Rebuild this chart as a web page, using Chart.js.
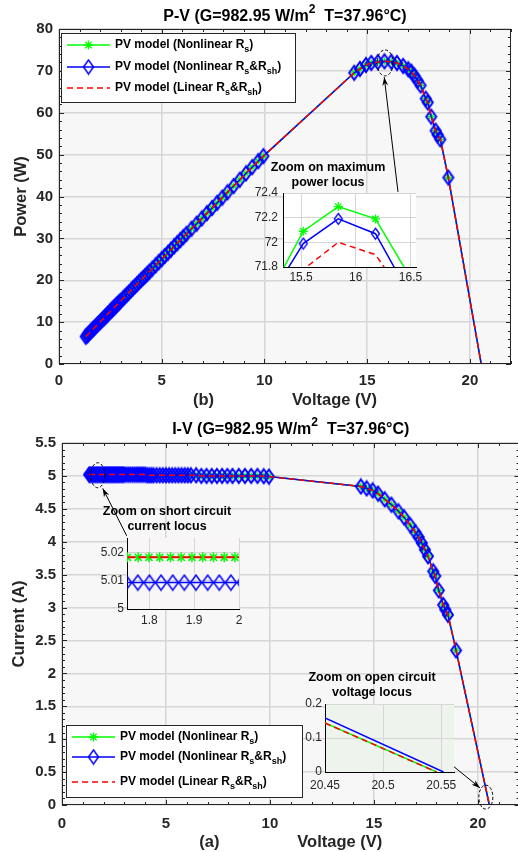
<!DOCTYPE html>
<html>
<head>
<meta charset="utf-8">
<script src="https://cdn.jsdelivr.net/npm/chart.js@4.4.0/dist/chart.umd.min.js"></script>
<style>
  body { margin: 0; width: 518px; height: 852px; overflow: hidden; background: #fff; position: relative; }
  canvas { position: absolute; }
</style>
</head>
<body>
<canvas id="pvChart" width="518" height="410" style="left:0;top:0"></canvas>
<canvas id="ivChart" width="526" height="437" style="left:0;top:415px"></canvas>
<canvas id="mppZoom" width="193" height="140" style="left:240px;top:150px"></canvas>
<canvas id="iscZoom" width="160" height="135" style="left:95px;top:495px"></canvas>
<canvas id="vocZoom" width="182" height="135" style="left:290px;top:660px"></canvas>
<script>
// ---- data ----
// main curves (the three models overlap at this scale)
const voltage = [1.3, 1.35, 1.4, 1.45, 1.5, 1.55, 1.6, 1.65, 1.7, 1.75, 1.8, 1.85, 1.9, 1.95, 2.0, 2.05, 2.1, 2.15, 2.2, 2.25,
  2.3, 2.35, 2.4, 2.45, 2.5, 2.55, 2.6, 2.65, 2.7, 2.75, 2.8, 2.85, 2.9, 2.95, 3.0,
  3.1, 3.2, 3.3, 3.4, 3.5, 3.6, 3.7, 3.8, 3.9, 4.0,
  4.1, 4.2, 4.3, 4.4, 4.55, 4.7, 4.85, 5.0, 5.15, 5.3, 5.45, 5.6, 5.75, 5.9, 6.05, 6.2, 6.45,
  6.7, 6.95, 7.2, 7.45, 7.7, 7.95, 8.2, 8.5, 8.8, 9.1, 9.4, 9.7, 9.95,
  14.37, 14.65, 14.94, 15.2, 15.52, 15.84, 16.18, 16.45, 16.75, 17.0,
  17.15, 17.3, 17.45, 17.6, 17.85, 17.95, 18.12, 18.33, 18.43, 18.56, 18.95, 20.55];
const current = [5.02, 5.02, 5.02, 5.02, 5.02, 5.02, 5.02, 5.02, 5.02, 5.02, 5.02, 5.02, 5.02, 5.02, 5.02, 5.02, 5.02, 5.02, 5.02, 5.02,
  5.02, 5.02, 5.02, 5.02, 5.02, 5.02, 5.02, 5.02, 5.02, 5.02, 5.02, 5.02, 5.02, 5.02, 5.02,
  5.02, 5.02, 5.02, 5.02, 5.02, 5.02, 5.02, 5.02, 5.02, 5.02,
  5.01, 5.01, 5.01, 5.01, 5.01, 5.01, 5.01, 5.01, 5.01, 5.01, 5.01, 5.01, 5.01, 5.01, 5.01, 5.01, 5.01,
  5.0, 5.0, 5.0, 5.0, 5.0, 5.0, 5.0, 5.0, 5.0, 5.0, 5.0, 4.995, 4.99,
  4.84, 4.81, 4.78, 4.73, 4.645, 4.563, 4.462, 4.37, 4.25, 4.14,
  4.07, 3.98, 3.88, 3.78, 3.55, 3.48, 3.26, 3.04, 2.97, 2.89, 2.35, 0];
const power = [6.53, 6.78, 7.03, 7.28, 7.53, 7.78, 8.03, 8.28, 8.53, 8.79, 9.04, 9.29, 9.54, 9.79, 10.04, 10.29, 10.54, 10.79, 11.04, 11.3,
  11.55, 11.8, 12.05, 12.3, 12.55, 12.8, 13.05, 13.3, 13.55, 13.81, 14.06, 14.31, 14.56, 14.81, 15.06,
  15.56, 16.06, 16.57, 17.07, 17.57, 18.07, 18.57, 19.08, 19.58, 20.08,
  20.54, 21.04, 21.54, 22.04, 22.8, 23.55, 24.3, 25.05, 25.8, 26.55, 27.3, 28.06, 28.81, 29.56, 30.31, 31.06, 32.31,
  33.5, 34.75, 36.0, 37.25, 38.5, 39.75, 41.0, 42.5, 44.0, 45.5, 47.0, 48.45, 49.65,
  69.55, 70.47, 71.41, 71.9, 72.09, 72.28, 72.19, 71.89, 71.19, 70.38,
  69.8, 68.85, 67.7, 66.53, 63.37, 62.47, 59.07, 55.72, 54.74, 53.64, 44.53, 0];

// zoom on maximum power locus
const mppV = [15.2, 15.52, 15.84, 16.18, 16.5];
const mppNonlinRs = [71.56, 72.09, 72.29, 72.19, 71.71];
const mppNonlinRsRsh = [71.53, 71.99, 72.19, 72.07, 71.56];
const mppLinear = [71.35, 71.78, 72.0, 71.9, 71.49];

// zoom on short circuit current locus
const iscStarV = [1.751, 1.775, 1.799, 1.823, 1.847, 1.871, 1.895, 1.919, 1.943, 1.967, 1.991, 2.015];
const iscNonlinRs = [5.0182, 5.0182, 5.0182, 5.0182, 5.0182, 5.0182, 5.0182, 5.0182, 5.0182, 5.0182, 5.0182, 5.0182];
const iscDiamV = [1.748, 1.774, 1.8, 1.826, 1.852, 1.878, 1.904, 1.93, 1.956, 1.982, 2.008];
const iscNonlinRsRsh = [5.0093, 5.0093, 5.0093, 5.0093, 5.0093, 5.0093, 5.0093, 5.0093, 5.0093, 5.0093, 5.0093];
const iscLinear = [5.0182, 5.0182, 5.0182, 5.0182, 5.0182, 5.0182, 5.0182, 5.0182, 5.0182, 5.0182, 5.0182, 5.0182];

// zoom on open circuit voltage locus
const vocNonlinRsV = [20.45, 20.546];
const vocNonlinRs = [0.144, 0];
const vocNonlinRsRshV = [20.45, 20.552];
const vocNonlinRsRsh = [0.159, 0];
const vocLinearV = [20.45, 20.546];
const vocLinear = [0.144, 0];

const seriesNames = ['PV model (Nonlinear Rs)', 'PV model (Nonlinear Rs&Rsh)', 'PV model (Linear Rs&Rsh)'];
// same names with subscripts for the legend
const seriesRich = [
  [['PV model (Nonlinear R', ''], ['s', 'sub'], [')', '']],
  [['PV model (Nonlinear R', ''], ['s', 'sub'], ['&R', ''], ['sh', 'sub'], [')', '']],
  [['PV model (Linear R', ''], ['s', 'sub'], ['&R', ''], ['sh', 'sub'], [')', '']]
];

// ---- styling ----
const FONT = '"Liberation Sans", Arial, Helvetica, sans-serif';
const INK = '#262626';
const GRID = '#d6d6d6';
const GREEN = '#00ff00';
const BLUE = '#0000ff';
const RED = '#ff0000';

const pts = (xs, ys) => xs.map((x, i) => ({ x: x, y: ys[i] }));
// plain tick labels: 5, 5.01, 72, 16.5 ...
const plain = v => String(Number(v.toFixed(4)));

// MATLAB-like diamond (taller than wide) used as point style
function diamond(w, h, lw) {
  const c = document.createElement('canvas');
  c.width = Math.ceil(w + 2 * lw);
  c.height = Math.ceil(h + 2 * lw);
  const g = c.getContext('2d');
  const cx = c.width / 2, cy = c.height / 2;
  g.strokeStyle = BLUE;
  g.lineWidth = lw;
  g.beginPath();
  g.moveTo(cx, cy - h / 2);
  g.lineTo(cx + w / 2, cy);
  g.lineTo(cx, cy + h / 2);
  g.lineTo(cx - w / 2, cy);
  g.closePath();
  g.stroke();
  return c;
}

function drawRich(ctx, parts, x, y, size, align) {
  const small = Math.round(size * 0.78);
  let w = 0;
  parts.forEach(([t, k]) => {
    ctx.font = 'bold ' + (k ? small : size) + 'px ' + FONT;
    w += ctx.measureText(t).width;
  });
  let cx = align === 'center' ? x - w / 2 : x;
  ctx.textAlign = 'left';
  ctx.textBaseline = 'middle';
  parts.forEach(([t, k]) => {
    ctx.font = 'bold ' + (k ? small : size) + 'px ' + FONT;
    let dy = 0;
    if (k === 'sub') dy = size * 0.4;
    if (k === 'sup') dy = -size * 0.45;
    ctx.fillText(t, cx, y + dy);
    cx += ctx.measureText(t).width;
  });
}

function asterisk(ctx, x, y, r) {
  ctx.beginPath();
  for (let k = 0; k < 4; k++) {
    const a = k * Math.PI / 4;
    ctx.moveTo(x - r * Math.cos(a), y - r * Math.sin(a));
    ctx.lineTo(x + r * Math.cos(a), y + r * Math.sin(a));
  }
  ctx.stroke();
}

// fill the plot area
const plotBg = {
  id: 'plotBg',
  beforeDraw(chart, args, o) {
    const a = chart.chartArea;
    chart.ctx.save();
    chart.ctx.fillStyle = o.color;
    chart.ctx.fillRect(a.left, a.top, a.right - a.left, a.bottom - a.top);
    chart.ctx.restore();
  }
};

// box around the axes with inward major/minor ticks
const boxTicks = {
  id: 'boxTicks',
  afterDraw(chart, args, o) {
    const { ctx, chartArea: a, scales: { x, y } } = chart;
    ctx.save();
    ctx.strokeStyle = INK;
    ctx.lineWidth = 1;
    ctx.strokeRect(a.left + 0.5, a.top + 0.5, a.right - a.left - 1, a.bottom - a.top - 1);
    ctx.beginPath();
    for (let k = Math.ceil(x.min / o.xMinor - 1e-6); k * o.xMinor <= x.max + 1e-6; k++) {
      const v = k * o.xMinor;
      const len = Math.abs(v / o.xMajor - Math.round(v / o.xMajor)) < 1e-6 ? 5 : 3;
      const px = Math.round(x.getPixelForValue(v)) + 0.5;
      ctx.moveTo(px, a.bottom); ctx.lineTo(px, a.bottom - len);
      ctx.moveTo(px, a.top); ctx.lineTo(px, a.top + len);
    }
    for (let k = Math.ceil(y.min / o.yMinor - 1e-6); k * o.yMinor <= y.max + 1e-6; k++) {
      const v = k * o.yMinor;
      const len = Math.abs(v / o.yMajor - Math.round(v / o.yMajor)) < 1e-6 ? 5 : 3;
      const py = Math.round(y.getPixelForValue(v)) + 0.5;
      ctx.moveTo(a.left, py); ctx.lineTo(a.left + len, py);
      ctx.moveTo(a.right, py); ctx.lineTo(a.right - len, py);
    }
    ctx.stroke();
    ctx.restore();
  }
};

// legend box with subscripts
const boxLegend = {
  id: 'boxLegend',
  afterDraw(chart, args, o) {
    const ctx = chart.ctx;
    const [bx, by, bw, bh] = o.box;
    ctx.save();
    ctx.fillStyle = '#fff';
    ctx.fillRect(bx, by, bw, bh);
    ctx.strokeStyle = INK;
    ctx.lineWidth = 1;
    ctx.strokeRect(bx + 0.5, by + 0.5, bw, bh);
    chart.data.datasets.forEach((ds, i) => {
      const y = o.rows[i];
      ctx.strokeStyle = ds.borderColor;
      ctx.lineWidth = ds.borderWidth;
      ctx.setLineDash(ds.borderDash || []);
      ctx.beginPath();
      ctx.moveTo(bx + 6, y);
      ctx.lineTo(bx + 49, y);
      ctx.stroke();
      ctx.setLineDash([]);
      if (ds.legendMarker === 'star') {
        ctx.lineWidth = 1.3;
        asterisk(ctx, bx + 27.5, y, 4.5);
      } else if (ds.legendMarker) {
        const m = ds.legendMarker;
        ctx.drawImage(m, bx + 27.5 - m.width / 2, y - m.height / 2);
      }
      ctx.fillStyle = '#000';
      drawRich(ctx, seriesRich[i], bx + 54, y, 12, 'left');
    });
    ctx.restore();
  }
};

// dashed ring + arrow pointing at the zoomed region (data coordinates)
const callout = {
  id: 'callout',
  afterDraw(chart, args, o) {
    const { ctx, scales: { x, y } } = chart;
    ctx.save();
    ctx.strokeStyle = '#000';
    ctx.fillStyle = '#000';
    ctx.lineWidth = 1;
    o.items.forEach(it => {
      ctx.setLineDash([3, 2]);
      ctx.beginPath();
      ctx.ellipse(x.getPixelForValue(it.ring[0]), y.getPixelForValue(it.ring[1]), it.rx, it.ry, 0, 0, 2 * Math.PI);
      ctx.stroke();
      ctx.setLineDash([]);
      const x0 = x.getPixelForValue(it.from[0]), y0 = y.getPixelForValue(it.from[1]);
      const x1 = x.getPixelForValue(it.to[0]), y1 = y.getPixelForValue(it.to[1]);
      ctx.beginPath();
      ctx.moveTo(x0, y0);
      ctx.lineTo(x1, y1);
      ctx.stroke();
      const ang = Math.atan2(y1 - y0, x1 - x0);
      ctx.beginPath();
      ctx.moveTo(x1, y1);
      ctx.lineTo(x1 - 9 * Math.cos(ang - 0.33), y1 - 9 * Math.sin(ang - 0.33));
      ctx.lineTo(x1 - 6 * Math.cos(ang), y1 - 6 * Math.sin(ang));
      ctx.lineTo(x1 - 9 * Math.cos(ang + 0.33), y1 - 9 * Math.sin(ang + 0.33));
      ctx.closePath();
      ctx.fill();
    });
    ctx.restore();
  }
};

// chart title with superscript
const richTitle = {
  id: 'richTitle',
  afterDraw(chart, args, o) {
    const a = chart.chartArea;
    chart.ctx.save();
    chart.ctx.fillStyle = '#000';
    drawRich(chart.ctx, o.parts, (a.left + a.right) / 2, o.y, 16, 'center');
    chart.ctx.restore();
  }
};

const fitW = w => s => { s.width = w; s.paddingTop = 0; s.paddingBottom = 0; };
const fitH = h => s => { s.height = h; s.paddingLeft = 0; s.paddingRight = 0; };
const tickFont = { family: FONT, size: 15, weight: 'bold' };
const labelFont = { family: FONT, size: 16.5, weight: 'bold', lineHeight: 1.2 };
const zoomTick = { family: FONT, size: 12 };
const zoomTitle = { family: FONT, size: 12.5, weight: 'bold', lineHeight: 1.2 };
const lastIdx = voltage.length - 1;

const mainDiamond = diamond(10, 14, 2);
const legendDiamond = diamond(10, 14, 1.5);

// green drawn first, blue diamonds over it, red dashes on top
function mainSets(ys) {
  return [
    { label: seriesNames[0], data: pts(voltage, ys), borderColor: GREEN, borderWidth: 1.5,
      pointStyle: 'star', pointRadius: c => (c.dataIndex === lastIdx ? 0 : 3.5),
      pointBorderColor: GREEN, pointBorderWidth: 1.2, legendMarker: 'star', order: 3 },
    { label: seriesNames[1], data: pts(voltage, ys), borderColor: BLUE, borderWidth: 1.5,
      pointStyle: mainDiamond, pointRadius: c => (c.dataIndex === lastIdx ? 0 : 5),
      legendMarker: legendDiamond, order: 2 },
    { label: seriesNames[2], data: pts(voltage, ys), borderColor: RED, borderWidth: 1.5,
      borderDash: [6, 4], pointRadius: 0, order: 1 }
  ];
}

// P-V curve
new Chart('pvChart', {
  type: 'line',
  data: { datasets: mainSets(power) },
  options: {
    responsive: false, animation: false, events: [], devicePixelRatio: 1,
    layout: { padding: { top: 29, right: 7, bottom: 0, left: 0 } },
    scales: {
      x: {
        type: 'linear', min: 0, max: 22, afterFit: fitH(46),
        grid: { color: GRID, lineWidth: 1.5, drawTicks: false },
        border: { display: false },
        ticks: { stepSize: 5, includeBounds: false, padding: 8, color: INK, font: tickFont, callback: plain },
        title: { display: true, text: '(b)' + ' '.repeat(17) + 'Voltage (V)', color: INK, font: labelFont, padding: { top: 0, bottom: 0 } }
      },
      y: {
        min: 0, max: 80, afterFit: fitW(59),
        grid: { color: GRID, lineWidth: 1.5, drawTicks: false },
        border: { display: false },
        ticks: { stepSize: 10, padding: 6, color: INK, font: tickFont, callback: plain },
        title: { display: true, text: 'Power (W)', color: INK, font: labelFont, padding: { top: 12, bottom: 0 } }
      }
    },
    plugins: {
      legend: { display: false },
      tooltip: { enabled: false },
      plotBg: { color: '#f7f7f7' },
      boxTicks: { xMinor: 1, xMajor: 5, yMinor: 2, yMajor: 10 },
      boxLegend: { box: [61, 33, 234, 69], rows: [45, 67, 88] },
      callout: { items: [{ ring: [15.87, 71.9], rx: 8, ry: 13, from: [16.5, 41.1], to: [15.83, 68.5] }] },
      richTitle: { y: 17, parts: [['P-V (G=982.95 W/m', ''], ['2', 'sup'], ['  T=37.96°C)', '']] }
    }
  },
  plugins: [plotBg, boxTicks, callout, boxLegend, richTitle]
});

// I-V curve
new Chart('ivChart', {
  type: 'line',
  data: { datasets: mainSets(current) },
  options: {
    responsive: false, animation: false, events: [], devicePixelRatio: 1,
    layout: { padding: { top: 28, right: 4, bottom: 0, left: 0 } },
    scales: {
      x: {
        type: 'linear', min: 0, max: 22, afterFit: fitH(47),
        grid: { color: GRID, lineWidth: 1.5, drawTicks: false },
        border: { display: false },
        ticks: { stepSize: 5, includeBounds: false, padding: 10, color: INK, font: tickFont, callback: plain },
        title: { display: true, text: '(a)' + ' '.repeat(17) + 'Voltage (V)', color: INK, font: labelFont, padding: { top: 0, bottom: 0 } }
      },
      y: {
        min: 0, max: 5.5, afterFit: fitW(62),
        grid: { color: GRID, lineWidth: 1.5, drawTicks: false },
        border: { display: false },
        ticks: { stepSize: 0.5, padding: 6, color: INK, font: tickFont, callback: plain },
        title: { display: true, text: 'Current (A)', color: INK, font: labelFont, padding: { top: 10, bottom: 0 } }
      }
    },
    plugins: {
      legend: { display: false },
      tooltip: { enabled: false },
      plotBg: { color: '#f7f7f7' },
      boxTicks: { xMinor: 1, xMajor: 5, yMinor: 0.1, yMajor: 0.5 },
      boxLegend: { box: [66, 310, 236, 72], rows: [322, 342, 367] },
      callout: { items: [
        { ring: [1.72, 5.01], rx: 7, ry: 12.5, from: [3.11, 4.09], to: [1.96, 4.81] },
        { ring: [20.38, 0.12], rx: 7, ry: 12, from: [18.66, 0.63], to: [20.1, 0.26] }
      ] },
      richTitle: { y: 15, parts: [['I-V (G=982.95 W/m', ''], ['2', 'sup'], ['  T=37.96°C)', '']] }
    }
  },
  plugins: [plotBg, boxTicks, callout, boxLegend, richTitle]
});

// shared options for the zoom insets
function zoomOptions(title, titlePad, xs, ys, bg) {
  return {
    responsive: false, animation: false, events: [], devicePixelRatio: 1,
    layout: { padding: { top: 0, right: xs.right, bottom: 0, left: 0 } },
    scales: {
      x: {
        type: 'linear', min: xs.min, max: xs.max, afterFit: fitH(xs.h),
        grid: { color: GRID, lineWidth: 1, drawTicks: false },
        border: { display: true, color: '#000', width: 1 },
        ticks: { stepSize: xs.step, includeBounds: false, padding: xs.pad, color: INK, font: zoomTick, callback: plain }
      },
      y: {
        min: ys.min, max: ys.max, afterFit: fitW(ys.w),
        grid: { color: GRID, lineWidth: 1, drawTicks: false },
        border: { display: true, color: '#000', width: 1 },
        ticks: { stepSize: ys.step, includeBounds: false, padding: ys.pad, color: INK, font: zoomTick, callback: plain }
      }
    },
    plugins: {
      legend: { display: false },
      tooltip: { enabled: false },
      plotBg: { color: bg },
      title: { display: true, text: title, color: '#000', font: zoomTitle, padding: titlePad }
    }
  };
}

new Chart('mppZoom', {
  type: 'line',
  data: { datasets: [
    { label: seriesNames[0], data: pts(mppV, mppNonlinRs), borderColor: GREEN, borderWidth: 1.5,
      pointStyle: 'star', pointRadius: 4.5, pointBorderColor: GREEN, pointBorderWidth: 1.3, order: 2 },
    { label: seriesNames[1], data: pts(mppV, mppNonlinRsRsh), borderColor: BLUE, borderWidth: 1.5,
      pointStyle: diamond(8, 11, 1.3), pointRadius: 4, order: 3 },
    { label: seriesNames[2], data: pts(mppV, mppLinear), borderColor: RED, borderWidth: 1.5,
      borderDash: [6, 4], pointRadius: 0, order: 1 }
  ] },
  options: zoomOptions(['Zoom on maximum', 'power locus'], { top: 10, bottom: 3 },
    { min: 15.335, max: 16.55, step: 0.5, h: 23, pad: 3, right: 17 },
    { min: 71.8, max: 72.4, step: 0.2, w: 43, pad: 5 }, '#ffffff'),
  plugins: [plotBg]
});

new Chart('iscZoom', {
  type: 'line',
  data: { datasets: [
    { label: seriesNames[0], data: pts(iscStarV, iscNonlinRs), borderColor: GREEN, borderWidth: 1.5,
      pointStyle: 'star', pointRadius: 5, pointBorderColor: GREEN, pointBorderWidth: 1.5, order: 2 },
    { label: seriesNames[1], data: pts(iscDiamV, iscNonlinRsRsh), borderColor: BLUE, borderWidth: 1.5,
      pointStyle: diamond(11, 15, 1.5), pointRadius: 5, order: 3 },
    { label: seriesNames[2], data: pts(iscStarV, iscLinear), borderColor: RED, borderWidth: 2,
      borderDash: [8, 3], pointRadius: 0, order: 1 }
  ] },
  options: zoomOptions(['Zoom on short circuit', 'current locus'], { top: 9.5, bottom: 3.5 },
    { min: 1.75, max: 2.0, step: 0.1, h: 21, pad: 4, right: 16 },
    { min: 5, max: 5.025, step: 0.01, w: 32, pad: 3 }, '#f8f6f6'),
  plugins: [plotBg]
});

new Chart('vocZoom', {
  type: 'line',
  data: { datasets: [
    { label: seriesNames[0], data: pts(vocNonlinRsV, vocNonlinRs), borderColor: GREEN, borderWidth: 1.5,
      pointRadius: 0, order: 2 },
    { label: seriesNames[1], data: pts(vocNonlinRsRshV, vocNonlinRsRsh), borderColor: BLUE, borderWidth: 1.5,
      pointRadius: 0, order: 3 },
    { label: seriesNames[2], data: pts(vocLinearV, vocLinear), borderColor: RED, borderWidth: 1.5,
      borderDash: [6, 4], pointRadius: 0, order: 1 }
  ] },
  options: zoomOptions(['Zoom on open circuit', 'voltage locus'], { top: 10.5, bottom: 3.5 },
    { min: 20.45, max: 20.561, step: 0.05, h: 23, pad: 6, right: 18 },
    { min: 0, max: 0.2, step: 0.1, w: 35, pad: 3 }, '#eef3ee'),
  plugins: [plotBg]
});
</script>
</body>
</html>
